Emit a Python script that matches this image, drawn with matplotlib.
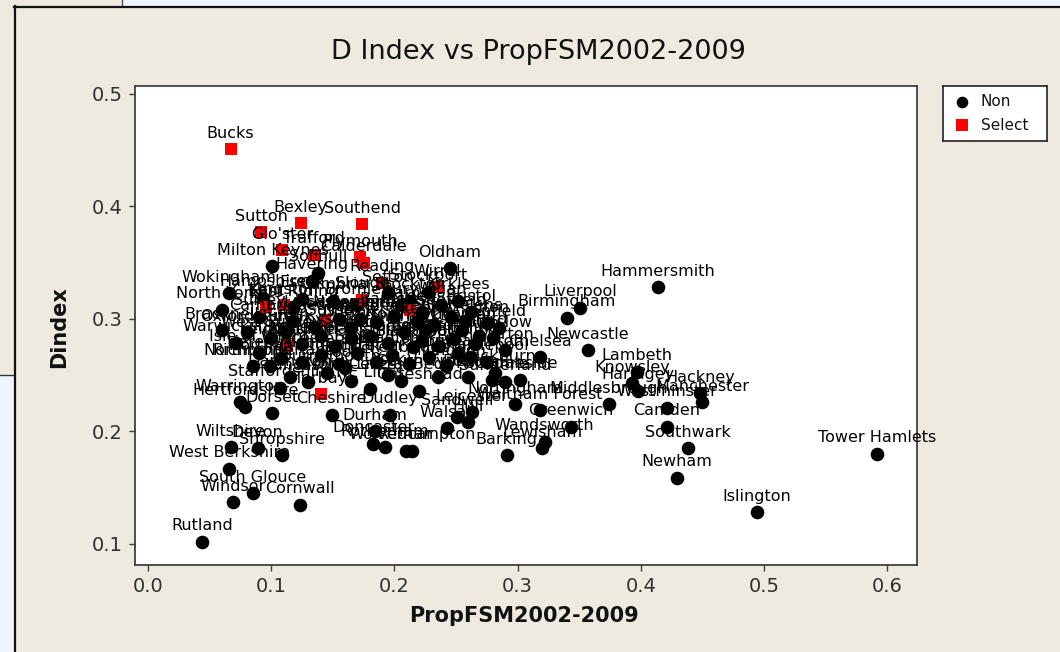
import matplotlib
matplotlib.use("Agg")
import matplotlib.pyplot as plt
from matplotlib.patches import Rectangle
from matplotlib.lines import Line2D

# ---------------------------------------------------------------- data
# Authorities with selective (grammar) schools
sel_names = ["Bucks", "Sutton", "Bexley", "Southend", "Glo'ster", "Trafford",
             "Plymouth", "Calderdale", "Reading", "Wirral", "Slough", "Kent",
             "Kingston", "Medway", "Torbay", "Lincolnshire", "Barnet"]
sel_x = [0.067, 0.092, 0.124, 0.174, 0.109, 0.135,
         0.172, 0.175, 0.190, 0.235, 0.174, 0.096,
         0.110, 0.144, 0.140, 0.113, 0.213]
sel_y = [0.451, 0.377, 0.385, 0.384, 0.361, 0.357,
         0.355, 0.350, 0.332, 0.328, 0.317, 0.311,
         0.312, 0.299, 0.233, 0.276, 0.308]

# Authorities without selective schools
non_names = [
    "Hammersmith", "Liverpool", "Birmingham", "Newcastle", "Lambeth",
    "Knowsley", "Haringey", "Hackney", "Manchester", "Middlesbrough",
    "Westminster", "Camden", "Southwark", "Newham", "Islington",
    "Tower Hamlets", "Greenwich", "Wandsworth", "Lewisham", "Barking",
    "Waltham Forest", "Tameside", "Blackburn", "Chelsea", "Southampton",
    "Salford", "St Helens", "Oldham", "Stockton", "Havering",
    "Solihull", "Milton Keynes", "Wokingham", "Hampshire", "North Yorks",
    "Bracknell", "Warwickshire", "Northumberland", "Staffordshire", "Warrington",
    "Hertfordshire", "Dorset", "Wiltshire", "Devon", "Shropshire",
    "West Berkshire", "South Glouce", "Windsor", "Cornwall", "Rutland",
    "Durham", "Cheshire", "Dudley", "Doncaster", "Rotherham",
    "Redcar", "Wolverhampton", "Walsall", "Sandwell", "Hull",
    "Leicester", "Nottingham", "Bolton", "Rochdale", "Sunderland",
    "Sefton", "Bury", "Stockport", "Wigan", "Leeds",
    "Kirklees", "Bromley", "Cumbria", "Essex", "Sheffield",
    "Bristol", "Luton", "Derby", "Coventry", "Barnsley",
    "Wakefield", "Surrey", "Cambridgeshire", "East Sussex", "Leicestershire",
    "Norfolk", "Croydon", "Enfield", "Oxfordshire", "West Sussex",
    "Suffolk", "Somerset", "Derbyshire", "Nottinghamshire", "Swindon",
    "Telford", "Peterborough", "Thurrock", "Bedford", "Brighton",
    "Portsmouth", "Ealing", "Hounslow", "Merton", "Isle of Wight",
    "Herefordshire", "Northamptonshire", "Worcestershire", "Bath", "Stoke",
    "Halton", "Bradford", "Redbridge", "Harrow", "Hillingdon",
    "Brent", "Richmond", "Bournemouth", "Poole", "Hartlepool",
    "Darlington", "Lancashire", "North Lincs", "NE Lincs", "York",
    "Gateshead", "South Tyneside", "Blackpool", "N Somerset", "North Tyneside",
    "East Riding", "Central Beds",
]
non_x = [
    0.414, 0.351, 0.340, 0.357, 0.397,
    0.393, 0.398, 0.448, 0.450, 0.374,
    0.421, 0.421, 0.438, 0.429, 0.494,
    0.592, 0.343, 0.322, 0.320, 0.291,
    0.318, 0.302, 0.282, 0.318, 0.261,
    0.269, 0.257, 0.245, 0.213, 0.133,
    0.138, 0.101, 0.066, 0.093, 0.060,
    0.060, 0.071, 0.099, 0.107, 0.075,
    0.079, 0.101, 0.067, 0.089, 0.109,
    0.066, 0.085, 0.069, 0.123, 0.044,
    0.184, 0.149, 0.196, 0.183, 0.192,
    0.209, 0.214, 0.243, 0.251, 0.260,
    0.263, 0.298, 0.260, 0.279, 0.290,
    0.195, 0.205, 0.228, 0.238, 0.222,
    0.252, 0.170, 0.150, 0.125, 0.246,
    0.262, 0.275, 0.232, 0.218, 0.200,
    0.185, 0.090, 0.118, 0.135, 0.155,
    0.165, 0.255, 0.285, 0.080, 0.100,
    0.112, 0.125, 0.140, 0.152, 0.165,
    0.180, 0.195, 0.208, 0.222, 0.236,
    0.248, 0.265, 0.280, 0.290, 0.090,
    0.108, 0.125, 0.140, 0.155, 0.170,
    0.185, 0.198, 0.212, 0.228, 0.242,
    0.252, 0.085, 0.145, 0.160, 0.275,
    0.115, 0.130, 0.165, 0.180, 0.195,
    0.220, 0.235, 0.215, 0.172, 0.225,
    0.118, 0.205,
]
non_y = [
    0.328, 0.310, 0.301, 0.272, 0.253,
    0.243, 0.236, 0.234, 0.226, 0.224,
    0.221, 0.204, 0.185, 0.159, 0.128,
    0.180, 0.204, 0.191, 0.185, 0.179,
    0.219, 0.246, 0.252, 0.266, 0.266,
    0.285, 0.298, 0.345, 0.316, 0.334,
    0.341, 0.347, 0.323, 0.319, 0.308,
    0.290, 0.279, 0.258, 0.239, 0.226,
    0.222, 0.216, 0.186, 0.185, 0.179,
    0.167, 0.145, 0.137, 0.135, 0.102,
    0.200, 0.215, 0.215, 0.189, 0.186,
    0.183, 0.183, 0.203, 0.213, 0.208,
    0.217, 0.224, 0.248, 0.246, 0.244,
    0.323, 0.312, 0.324, 0.312, 0.306,
    0.316, 0.312, 0.316, 0.318, 0.302,
    0.306, 0.296, 0.295, 0.298, 0.303,
    0.297, 0.302, 0.298, 0.293, 0.300,
    0.292, 0.290, 0.292, 0.288, 0.283,
    0.288, 0.278, 0.285, 0.276, 0.283,
    0.285, 0.279, 0.288, 0.280, 0.276,
    0.282, 0.278, 0.283, 0.272, 0.270,
    0.265, 0.262, 0.268, 0.260, 0.270,
    0.262, 0.268, 0.260, 0.266, 0.258,
    0.270, 0.258, 0.252, 0.256, 0.262,
    0.248, 0.244, 0.245, 0.238, 0.250,
    0.236, 0.248, 0.275, 0.300, 0.290,
    0.310, 0.245,
]

x_ticks = [0.0, 0.1, 0.2, 0.3, 0.4, 0.5, 0.6]
x_tick_labels = ["0.0", "0.1", "0.2", "0.3", "0.4", "0.5", "0.6"]
y_ticks = [0.1, 0.2, 0.3, 0.4, 0.5]
y_tick_labels = ["0.1", "0.2", "0.3", "0.4", "0.5"]

# ---------------------------------------------------------------- figure
W, H = 1060, 652
BEIGE = "#EEEAE0"
PALE = "#EEF5FF"
fig = plt.figure(figsize=(W / 100, H / 100), dpi=100, facecolor=BEIGE)


def fx(px):
    return px / W


def fy(py):
    return 1 - py / H


def band(x0, y0, x1, y1, color):
    fig.patches.append(Rectangle((fx(x0), fy(y1)), fx(x1) - fx(x0), fy(y0) - fy(y1),
                                 transform=fig.transFigure, facecolor=color,
                                 edgecolor="none", zorder=0))


def rule(x0, y0, x1, y1, color, lw):
    fig.add_artist(Line2D([fx(x0), fx(x1)], [fy(y0), fy(y1)],
                          transform=fig.transFigure, color=color, lw=lw))


# surrounding window frame
band(123, 0, W, 6, PALE)
band(0, 375, 14, H, PALE)
rule(122, 0, 122, 6, "#555555", 1.0)
rule(0, 375, 14, 375, "#333333", 1.0)
rule(14, 6.5, W, 6.5, "#111111", 1.6)
rule(14.5, 6, 14.5, H, "#111111", 1.6)

# ---------------------------------------------------------------- plot
ax = fig.add_axes([fx(135), fy(565), fx(917) - fx(135), fy(86) - fy(565)])
ax.set_facecolor("white")
ax.set_xlim(-0.0106, 0.6242)
ax.set_ylim(0.0813, 0.5071)

ax.scatter(non_x, non_y, s=96, marker="o", color="black", linewidths=0, zorder=2)
ax.scatter(sel_x, sel_y, s=80, marker="s", color="#FF0000", linewidths=0, zorder=3)

for names, xs, ys in ((non_names, non_x, non_y), (sel_names, sel_x, sel_y)):
    for n, x, y in zip(names, xs, ys):
        ax.annotate(n, (x, y), xytext=(0, 16), textcoords="offset pixels",
                    ha="center", va="center", fontsize=11.5, color="black",
                    zorder=4)

ax.set_xticks(x_ticks)
ax.set_xticklabels(x_tick_labels)
ax.set_yticks(y_ticks)
ax.set_yticklabels(y_tick_labels)
ax.tick_params(direction="out", length=4, width=1.0, color="#404040",
               labelsize=14, labelcolor="#303030", pad=5)
for sp in ax.spines.values():
    sp.set_color("#404040")
    sp.set_linewidth(1.3)

fig.text(fx(538), fy(52), "D Index vs PropFSM2002-2009", ha="center", va="center",
         fontsize=19.5, color="#111111")
fig.text(fx(524), fy(616), "PropFSM2002-2009", ha="center", va="center",
         fontsize=15, fontweight="bold", color="#111111")
fig.text(fx(59), fy(327), "Dindex", ha="center", va="center", rotation=90,
         fontsize=15, fontweight="bold", color="#111111")

# ---------------------------------------------------------------- legend
lax = fig.add_axes([fx(943), fy(141), fx(1047) - fx(943), fy(86) - fy(141)])
lax.set_xlim(0, 104)
lax.set_ylim(55, 0)
lax.set_xticks([])
lax.set_yticks([])
lax.set_facecolor("white")
for sp in lax.spines.values():
    sp.set_color("#222222")
    sp.set_linewidth(1.2)
lax.scatter([19], [16], s=70, marker="o", color="black", linewidths=0)
lax.scatter([19], [39], s=70, marker="s", color="#FF0000", linewidths=0)
lax.text(38, 16, "Non", va="center", ha="left", fontsize=11, color="#111111")
lax.text(38, 39, "Select", va="center", ha="left", fontsize=11, color="#111111")

fig.savefig("out.png", dpi=100, facecolor=fig.get_facecolor())
